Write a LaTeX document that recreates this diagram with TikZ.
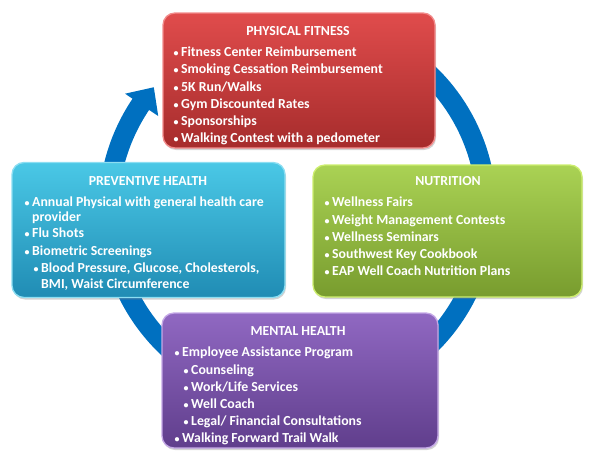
\documentclass[tikz,border=0pt]{standalone}
\usepackage{fontspec}
\setmainfont{Carlito}
\usetikzlibrary{shadows}
\definecolor{ringblue}{RGB}{0,112,192}
\definecolor{redtop}{RGB}{224,76,76}
\definecolor{redbot}{RGB}{166,44,44}
\definecolor{redrim}{RGB}{242,140,140}
\definecolor{grntop}{RGB}{170,210,84}
\definecolor{grnbot}{RGB}{120,156,46}
\definecolor{grnrim}{RGB}{205,238,110}
\definecolor{blutop}{RGB}{74,200,230}
\definecolor{blubot}{RGB}{32,140,180}
\definecolor{blurim}{RGB}{140,222,242}
\definecolor{purtop}{RGB}{144,104,194}
\definecolor{purbot}{RGB}{96,62,140}
\definecolor{purrim}{RGB}{196,168,230}
\newcommand\bul{\llap{{\fontsize{10}{10}\selectfont\textbullet}\hspace{2.6pt}}}
\begin{document}
\begin{tikzpicture}[x=1pt,y=-1pt,
  box/.style={rounded corners=12pt, line width=1.3pt, inner sep=0pt,
    drop shadow={shadow xshift=1pt,shadow yshift=-2pt,opacity=0.35}},
  txt/.style={anchor=mid west, inner sep=0pt, text=white, yshift=-2pt,
    font=\fontsize{13.8}{15}\selectfont\bfseries},
  ttl/.style={anchor=mid, inner sep=0pt, text=white, yshift=-2pt,
    font=\fontsize{13.8}{15}\selectfont\bfseries}]
\useasboundingbox (0,0) rectangle (593,463);
\coordinate (c) at (297.5,210);
% circular arrow
\draw[ringblue, line width=20pt] (c) ++(-58:189) arc[start angle=-58, end angle=214.2, radius=189];
\fill[ringblue] (c) +(214:208) -- +(220.5:189) -- +(214:168) -- cycle;
% boxes
\node[box, top color=redtop, bottom color=redbot, draw=redrim,
  minimum width=272pt, minimum height=135pt] (pf) at (299,80.5) {};
\node[box, top color=grntop, bottom color=grnbot, draw=grnrim,
  minimum width=269pt, minimum height=132pt] (nu) at (447.5,231) {};
\node[box, top color=blutop, bottom color=blubot, draw=blurim,
  minimum width=273pt, minimum height=135pt] (ph) at (148.5,230) {};
\node[box, top color=purtop, bottom color=purbot, draw=purrim,
  minimum width=276pt, minimum height=135pt] (mh) at (300,380.5) {};
% physical fitness
\node[ttl] (pft) at (298,31) {PHYSICAL FITNESS};
\node[txt] (pf1) at (181,52) {\bul Fitness Center Reimbursement};
\node[txt] (pf2) at (181,69) {\bul Smoking Cessation Reimbursement};
\node[txt] (pf3) at (181,87) {\bul 5K Run/Walks};
\node[txt] (pf4) at (181,104) {\bul Gym Discounted Rates};
\node[txt] (pf5) at (181,121) {\bul Sponsorships};
\node[txt] (pf6) at (181,138) {\bul Walking Contest with a pedometer};
% nutrition
\node[ttl] (nut) at (448,181) {NUTRITION};
\node[txt] (nu1) at (332,202) {\bul Wellness Fairs};
\node[txt] (nu2) at (332,220) {\bul Weight Management Contests};
\node[txt] (nu3) at (332,237) {\bul Wellness Seminars};
\node[txt] (nu4) at (332,254) {\bul Southwest Key Cookbook};
\node[txt] (nu5) at (332,271) {\bul EAP Well Coach Nutrition Plans};
% preventive health
\node[ttl] (pht) at (148,181) {PREVENTIVE HEALTH};
\node[txt] (ph1) at (32,202) {\bul Annual Physical with general health care};
\node[txt] (ph2) at (32,217) {provider};
\node[txt] (ph3) at (32,233) {\bul Flu Shots};
\node[txt] (ph4) at (32,251) {\bul Biometric Screenings};
\node[txt] (ph5) at (41,268) {\bul Blood Pressure, Glucose, Cholesterols,};
\node[txt] (ph6) at (41,284) {BMI, Waist Circumference};
% mental health
\node[ttl] (mht) at (298,331) {MENTAL HEALTH};
\node[txt] (mh1) at (182,352) {\bul Employee Assistance Program};
\node[txt] (mh2) at (191,370) {\bul Counseling};
\node[txt] (mh3) at (191,387) {\bul Work/Life Services};
\node[txt] (mh4) at (191,404) {\bul Well Coach};
\node[txt] (mh5) at (191,421) {\bul Legal/ Financial Consultations};
\node[txt] (mh6) at (182,438) {\bul Walking Forward Trail Walk};
\end{tikzpicture}
\end{document}
